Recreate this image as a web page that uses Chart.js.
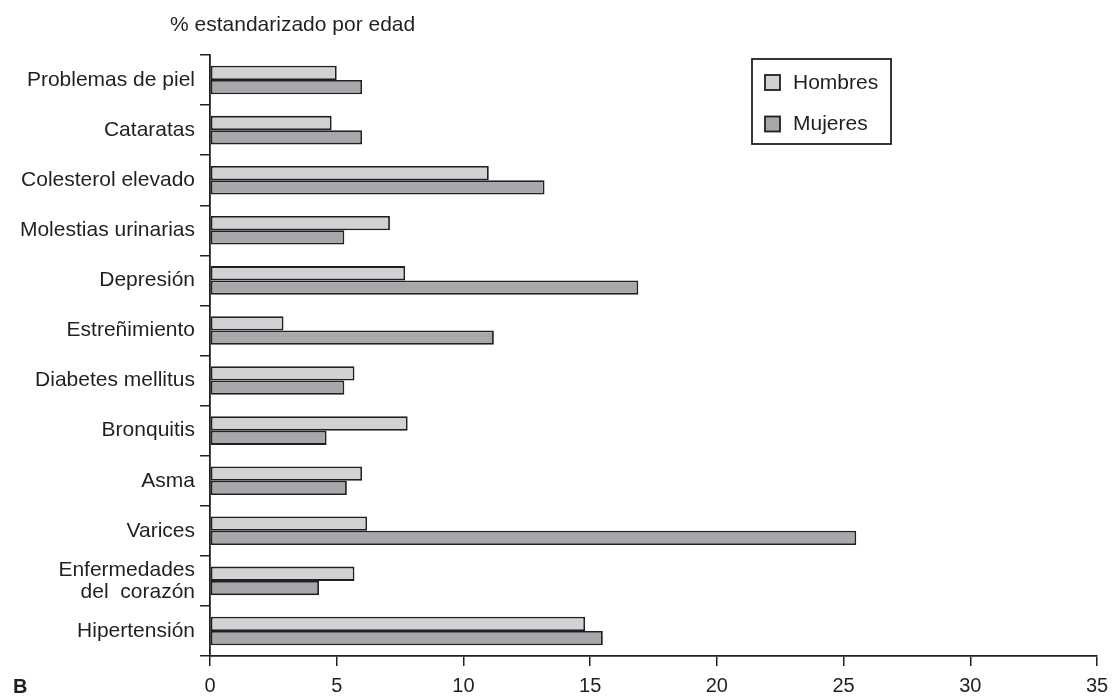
<!DOCTYPE html>
<html lang="es">

<head>
    <meta charset="UTF-8">
    <title>% estandarizado por edad</title>
    <script src="https://cdn.jsdelivr.net/npm/chart.js"></script>
    <style>
        body { margin: 0; background: #fff; }
        #grafico { display: block; }
    </style>
</head>

<body>
    <canvas id="grafico" width="1112" height="696"></canvas>

    <script>
        // datos
        const categorias = [
            'Problemas de piel',
            'Cataratas',
            'Colesterol elevado',
            'Molestias urinarias',
            'Depresión',
            'Estreñimiento',
            'Diabetes mellitus',
            'Bronquitis',
            'Asma',
            'Varices',
            ['Enfermedades', 'del  corazón'],
            'Hipertensión'
        ];
        const hombres = [5.0, 4.8, 11.0, 7.1, 7.7, 2.9, 5.7, 7.8, 6.0, 6.2, 5.7, 14.8];
        const mujeres = [6.0, 6.0, 13.2, 5.3, 16.9, 11.2, 5.3, 4.6, 5.4, 25.5, 4.3, 15.5];
        const ticksX = [0, 5, 10, 15, 20, 25, 30, 35];

        const tinta = '#231f20';
        const fuente = 'Liberation Sans, Arial, Helvetica, sans-serif';

        // titulo arriba, la "B" y la caja de leyenda
        const extras = {
            id: 'extras',
            afterDraw(chart) {
                const ctx = chart.ctx;
                const area = chart.chartArea;
                ctx.save();
                ctx.fillStyle = tinta;
                ctx.textBaseline = 'middle';
                ctx.textAlign = 'left';
                ctx.font = '21px ' + fuente;
                ctx.fillText('% estandarizado por edad', area.left - 40, 25);

                ctx.font = 'bold 20px ' + fuente;
                ctx.fillText('B', 13, 687);

                // leyenda
                const x0 = 752, y0 = 59, w = 139, h = 85;
                ctx.strokeStyle = tinta;
                ctx.lineWidth = 1.8;
                ctx.strokeRect(x0, y0, w, h);
                ctx.font = '21px ' + fuente;
                chart.data.datasets.forEach(function (ds, i) {
                    const cy = y0 + 24 + i * 41.5;
                    ctx.fillStyle = ds.backgroundColor;
                    ctx.fillRect(x0 + 13, cy - 8, 15, 15);
                    ctx.strokeRect(x0 + 13, cy - 8, 15, 15);
                    ctx.fillStyle = tinta;
                    ctx.fillText(ds.label, x0 + 41, cy);
                });
                ctx.restore();
            }
        };

        const dados = {
            labels: categorias,
            datasets: [{
                label: 'Hombres',
                data: hombres,
                backgroundColor: '#d1d2d4',
                borderColor: tinta,
                borderWidth: 1.8,
                borderSkipped: false
            }, {
                label: 'Mujeres',
                data: mujeres,
                backgroundColor: '#a7a8ab',
                borderColor: tinta,
                borderWidth: 1.8,
                borderSkipped: false
            }]
        };

        const config = {
            type: 'bar',
            data: dados,
            options: {
                indexAxis: 'y',
                responsive: false,
                animation: false,
                categoryPercentage: 0.57,
                barPercentage: 1.0,
                layout: { padding: { top: 55, right: 15, left: 0, bottom: 0 } },
                plugins: {
                    legend: { display: false },
                    tooltip: { enabled: false }
                },
                scales: {
                    x: {
                        min: 0,
                        max: 35,
                        afterBuildTicks(s) {
                            s.ticks = ticksX.map(v => ({ value: v }));
                        },
                        afterFit(s) {
                            s.height = 40;
                            s.paddingRight = 0;
                            s.paddingLeft = 0;
                        },
                        grid: {
                            drawOnChartArea: false,
                            drawTicks: true,
                            tickLength: 10,
                            color: tinta,
                            lineWidth: 1.5
                        },
                        border: { display: true, color: tinta, width: 1.8 },
                        ticks: {
                            color: tinta,
                            padding: 8,
                            maxRotation: 0,
                            font: { family: fuente, size: 20 }
                        }
                    },
                    y: {
                        afterFit(s) { s.width = 210; },
                        grid: {
                            offset: true,
                            drawOnChartArea: false,
                            drawTicks: true,
                            tickLength: 10,
                            color: tinta,
                            lineWidth: 1.5
                        },
                        border: { display: true, color: tinta, width: 1.8 },
                        ticks: {
                            color: tinta,
                            padding: 5,
                            autoSkip: false,
                            font: { family: fuente, size: 21, lineHeight: 1.05 }
                        }
                    }
                }
            },
            plugins: [extras]
        };

        let myChart = new Chart(document.getElementById('grafico'), config);
    </script>
</body>

</html>
